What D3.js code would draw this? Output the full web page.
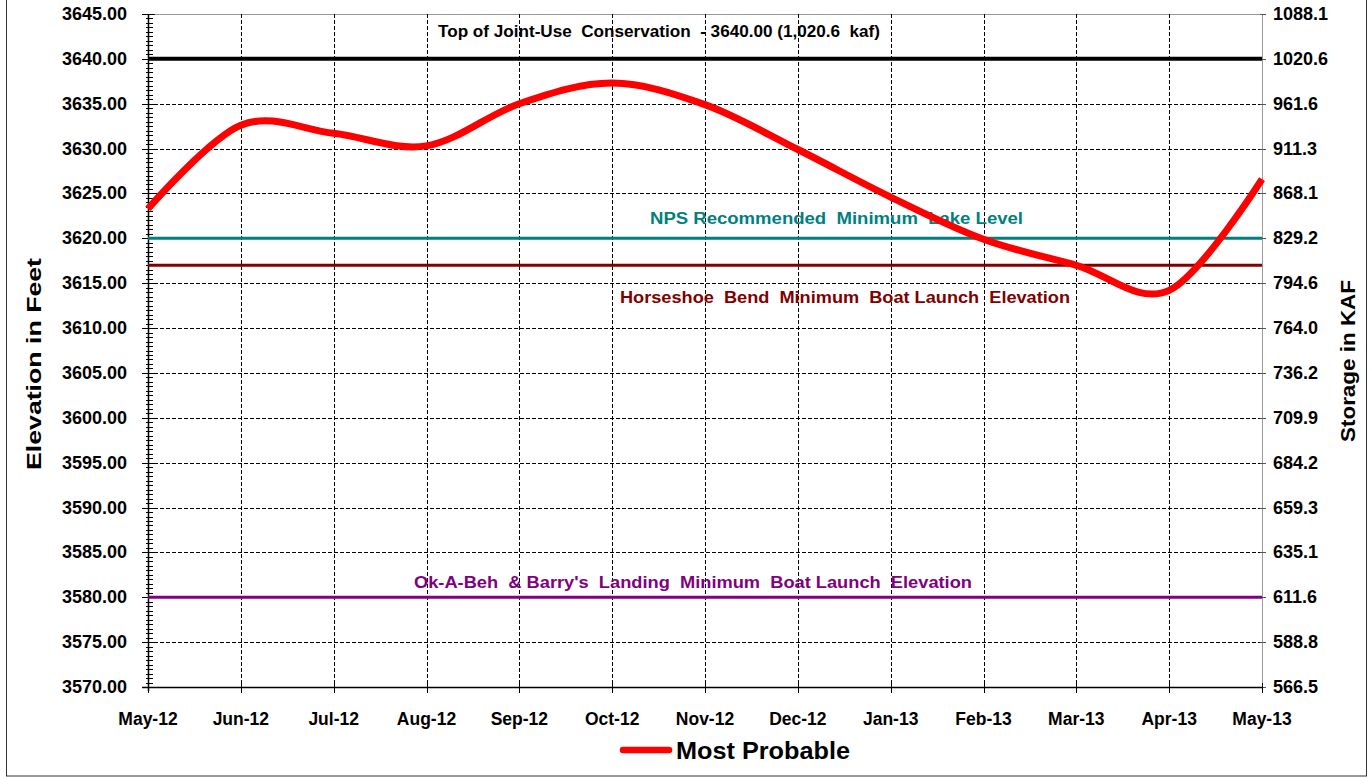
<!DOCTYPE html>
<html>
<head>
<meta charset="utf-8">
<script src="https://cdn.jsdelivr.net/npm/d3@7"></script>
<style>
  body { margin: 0; background: #fff; }
  text { font-family: Arial, "Liberation Sans", sans-serif; font-weight: bold; }
</style>
</head>
<body>
<svg id="chart" width="1372" height="777"></svg>
<script>
// months on the x axis
var months = ["May-12", "Jun-12", "Jul-12", "Aug-12", "Sep-12", "Oct-12", "Nov-12",
  "Dec-12", "Jan-13", "Feb-13", "Mar-13", "Apr-13", "May-13"];
// most probable end-of-month elevation (feet)
var mostProbable = [3623.3, 3632.6, 3631.7, 3630.3, 3635.0, 3637.3, 3634.9,
  3629.9, 3624.6, 3619.9, 3617.0, 3614.2, 3626.6];
// left axis ticks (feet) and matching storage labels on the right
var elevTicks = [3570, 3575, 3580, 3585, 3590, 3595, 3600, 3605, 3610, 3615,
  3620, 3625, 3630, 3635, 3640, 3645];
var storageLabels = ["566.5", "588.8", "611.6", "635.1", "659.3", "684.2", "709.9",
  "736.2", "764.0", "794.6", "829.2", "868.1", "911.3", "961.6", "1020.6", "1088.1"];
// reference elevations
var refValues = [3640, 3620, 3617, 3580];
var refLabels = ["Top of Joint-Use  Conservation  - 3640.00 (1,020.6  kaf)",
  "NPS Recommended  Minimum  Lake Level",
  "Horseshoe  Bend  Minimum  Boat Launch  Elevation",
  "Ok-A-Beh  & Barry's  Landing  Minimum  Boat Launch  Elevation"];

var refColors = ["#000000", "#008080", "#800000", "#800080"];
var refWidths = [4, 3, 3, 3];
// label left x, baseline y, width
var refLabelPos = [[438, 37, 442], [650, 224, 373], [620, 303, 450], [414, 588, 558]];

var svg = d3.select("#chart");
var pLeft = 148, pRight = 1262, pTop = 14, pBottom = 687;

var x = d3.scalePoint().domain(months).range([pLeft, pRight]);
var y = d3.scaleLinear().domain([3570, 3645]).range([pBottom, pTop]);

function snap(v) { return Math.round(v) + 0.5; }

// outer frame
svg.append("rect")
  .attr("x", 6.5).attr("y", -1).attr("width", 1360).attr("height", 777)
  .attr("fill", "none").attr("stroke", "#333").attr("stroke-width", 1);

// plot border top/right
svg.append("path")
  .attr("d", "M" + pLeft + "," + (pTop + 0.5) + "H" + (pRight + 0.5) + "V" + pBottom)
  .attr("fill", "none").attr("stroke", "#999").attr("stroke-width", 1);

// horizontal dashed grid
svg.append("g").selectAll("line")
  .data(elevTicks.filter(function (d) { return d > 3570 && d < 3645; }))
  .enter().append("line")
  .attr("x1", pLeft).attr("x2", pRight)
  .attr("y1", function (d) { return snap(y(d)); })
  .attr("y2", function (d) { return snap(y(d)); })
  .attr("stroke", "#000").attr("stroke-width", 1).attr("stroke-dasharray", "4,2");

// vertical dashed grid
svg.append("g").selectAll("line")
  .data(months.slice(1, -1))
  .enter().append("line")
  .attr("x1", function (d) { return snap(x(d)); })
  .attr("x2", function (d) { return snap(x(d)); })
  .attr("y1", pTop).attr("y2", pBottom)
  .attr("stroke", "#000").attr("stroke-width", 1).attr("stroke-dasharray", "4,2");

// left axis with minor ticks every half foot
var minor = d3.range(3570, 3645.01, 0.5);
svg.append("g").selectAll("line")
  .data(minor)
  .enter().append("line")
  .attr("x1", function (d) { return d % 5 === 0 ? pLeft - 6 : pLeft - 2; })
  .attr("x2", function (d) { return d % 5 === 0 ? pLeft + 7 : pLeft + 5; })
  .attr("y1", function (d) { return snap(y(d)); })
  .attr("y2", function (d) { return snap(y(d)); })
  .attr("stroke", "#000").attr("stroke-width", 1);
svg.append("line")
  .attr("x1", pLeft + 0.5).attr("x2", pLeft + 0.5).attr("y1", pTop).attr("y2", pBottom + 4)
  .attr("stroke", "#000").attr("stroke-width", 1.5);

svg.append("g").selectAll("text")
  .data(elevTicks)
  .enter().append("text")
  .attr("x", 127).attr("y", function (d) { return y(d) + 6; })
  .attr("text-anchor", "end").attr("font-size", 18)
  .text(function (d) { return d.toFixed(2); });

// right labels (storage)
svg.append("g").selectAll("text")
  .data(elevTicks)
  .enter().append("text")
  .attr("x", 1273).attr("y", function (d) { return y(d) + 6; })
  .attr("font-size", 18)
  .text(function (d, i) { return storageLabels[i]; });
svg.append("g").selectAll("line")
  .data(elevTicks)
  .enter().append("line")
  .attr("x1", pRight - 2).attr("x2", pRight + 4)
  .attr("y1", function (d) { return snap(y(d)); })
  .attr("y2", function (d) { return snap(y(d)); })
  .attr("stroke", "#555").attr("stroke-width", 1);

// bottom axis
svg.append("line")
  .attr("x1", pLeft - 6).attr("x2", pRight + 1)
  .attr("y1", pBottom + 0.5).attr("y2", pBottom + 0.5)
  .attr("stroke", "#000").attr("stroke-width", 1.5);
svg.append("g").selectAll("line")
  .data(months)
  .enter().append("line")
  .attr("x1", function (d) { return snap(x(d)); })
  .attr("x2", function (d) { return snap(x(d)); })
  .attr("y1", pBottom - 4).attr("y2", pBottom + 6)
  .attr("stroke", "#000").attr("stroke-width", 1);
svg.append("g").selectAll("text")
  .data(months)
  .enter().append("text")
  .attr("x", function (d) { return x(d); }).attr("y", 725)
  .attr("text-anchor", "middle").attr("font-size", 17.5)
  .text(function (d) { return d; });

// reference lines
svg.append("g").selectAll("line")
  .data(refValues)
  .enter().append("line")
  .attr("x1", pLeft).attr("x2", pRight)
  .attr("y1", function (d) { return y(d); })
  .attr("y2", function (d) { return y(d); })
  .attr("stroke", function (d, i) { return refColors[i]; })
  .attr("stroke-width", function (d, i) { return refWidths[i]; });

svg.append("g").selectAll("text")
  .data(refLabels)
  .enter().append("text")
  .attr("x", function (d, i) { return refLabelPos[i][0]; })
  .attr("y", function (d, i) { return refLabelPos[i][1]; })
  .attr("textLength", function (d, i) { return refLabelPos[i][2]; })
  .attr("lengthAdjust", "spacingAndGlyphs")
  .attr("font-size", 16)
  .attr("xml:space", "preserve").style("white-space", "pre")
  .attr("fill", function (d, i) { return refColors[i]; })
  .text(function (d) { return d; });

// most probable curve
var line = d3.line()
  .x(function (d, i) { return x(months[i]); })
  .y(function (d) { return y(d); })
  .curve(d3.curveCardinal.tension(0));
svg.append("path")
  .datum(mostProbable)
  .attr("d", line)
  .attr("fill", "none").attr("stroke", "#ff0000").attr("stroke-width", 7)
  .attr("stroke-linejoin", "round");

// axis titles
svg.append("text")
  .attr("transform", "translate(41,364) rotate(-90)")
  .attr("text-anchor", "middle").attr("font-size", 20)
  .attr("textLength", 212).attr("lengthAdjust", "spacingAndGlyphs")
  .text("Elevation in Feet");
svg.append("text")
  .attr("transform", "translate(1355,361) rotate(-90)")
  .attr("text-anchor", "middle").attr("font-size", 20)
  .attr("textLength", 162).attr("lengthAdjust", "spacingAndGlyphs")
  .text("Storage in KAF");

// legend
svg.append("line")
  .attr("x1", 623).attr("x2", 669).attr("y1", 750).attr("y2", 750)
  .attr("stroke", "#ff0000").attr("stroke-width", 6.5).attr("stroke-linecap", "round");
svg.append("text")
  .attr("x", 676).attr("y", 759).attr("font-size", 23)
  .attr("textLength", 174).attr("lengthAdjust", "spacingAndGlyphs")
  .text("Most Probable");
</script>
</body>
</html>
